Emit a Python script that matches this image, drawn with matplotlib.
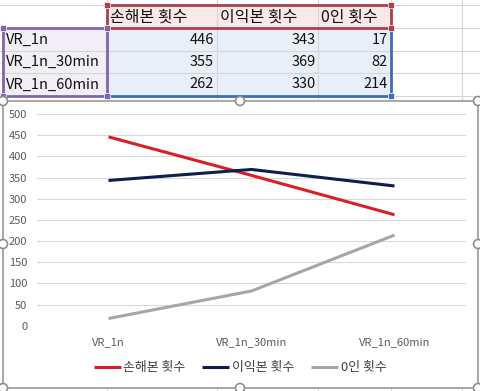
import matplotlib
matplotlib.use("Agg")
import matplotlib.pyplot as plt
from matplotlib.patches import Rectangle, Circle

plt.rcParams['font.family'] = ['Noto Sans CJK KR', 'DejaVu Sans']

# ---- data ----
categories = ["VR_1n", "VR_1n_30min", "VR_1n_60min"]
series_names = ["손해본 횟수", "이익본 횟수", "0인 횟수"]
loss_counts = [446, 355, 262]
profit_counts = [343, 369, 330]
zero_counts = [17, 82, 214]
series_values = [loss_counts, profit_counts, zero_counts]
series_colors = ["#dc1f26", "#0c1f4e", "#a6a6a6"]
y_ticks = list(range(0, 501, 50))

W, H = 480, 391
fig = plt.figure(figsize=(W / 100, H / 100), dpi=100)

# ---- spreadsheet background (pixel coords) ----
bg = fig.add_axes([0, 0, 1, 1])
bg.set_xlim(0, W)
bg.set_ylim(H, 0)
bg.axis('off')

grid_c = "#d6d6d6"
row_lines = [5, 28, 51, 73, 96]
col_lines = [107, 217, 318, 391, 462]
for y in row_lines:
    bg.plot([0, W], [y, y], color=grid_c, lw=0.8, zorder=1)
for x in col_lines:
    bg.plot([x, x], [0, H], color=grid_c, lw=0.8, zorder=1)

# ranges fills
bg.add_patch(Rectangle((107, 5), 284, 23, fc="#fbe8e8", ec="none", zorder=2))
bg.add_patch(Rectangle((3, 28), 104, 68, fc="#f2eef6", ec="none", zorder=2))
bg.add_patch(Rectangle((107, 28), 284, 68, fc="#e9eff8", ec="none", zorder=2))
for y in [51, 73]:
    bg.plot([3, 391], [y, y], color=grid_c, lw=0.8, zorder=2.5)
for x in [217, 318]:
    bg.plot([x, x], [5, 96], color=grid_c, lw=0.8, zorder=2.5)

# range borders
red_b, purple_b, blue_b = "#a8404e", "#8066a8", "#3f6db3"
bg.plot([107, 391, 391, 107, 107], [5, 5, 28, 28, 5], color=red_b, lw=2, zorder=3)
bg.plot([107, 3, 3, 107, 107], [28, 28, 96, 96, 28], color=purple_b, lw=2, zorder=3)
bg.plot([391, 391, 107], [28, 96, 96], color=blue_b, lw=2, zorder=3)
for (x, y, c) in [(107, 5, red_b), (391, 5, red_b), (391, 28, red_b), (107, 28, purple_b),
                  (3, 28, purple_b), (3, 96, purple_b), (107, 96, purple_b), (391, 96, blue_b)]:
    bg.add_patch(Rectangle((x - 3, y - 3), 6, 6, fc=c, ec="white", lw=0.5, zorder=4))

# table texts
tfs = 10.5
hfs = 11.5
hdr_x = [110, 220, 321]
num_x = [214, 316, 388]
row_y = [39.5, 62, 84.5]
for name, x in zip(series_names, hdr_x):
    bg.text(x, 17, name, fontsize=hfs, ha='left', va='center', color="#111111", zorder=5)
for cat, y in zip(categories, row_y):
    bg.text(6, y, cat, fontsize=tfs, ha='left', va='center', color="#111111", zorder=5)
for vals, x in zip(series_values, num_x):
    for v, y in zip(vals, row_y):
        bg.text(x, y, str(v), fontsize=tfs, ha='right', va='center', color="#111111", zorder=5)

# chart area
bg.add_patch(Rectangle((3, 101), 475, 287, fc="white", ec="#999999", lw=1.2, zorder=6))

# ---- chart ----
left_px, right_px, top_px, bot_px = 37, 466, 114, 325.7
ax = fig.add_axes([left_px / W, (H - bot_px) / H, (right_px - left_px) / W, (bot_px - top_px) / H])
ax.set_facecolor("none")
ax.set_zorder(2)
xs = list(range(len(categories)))
for name, vals, c in zip(series_names, series_values, series_colors):
    ax.plot(xs, vals, color=c, lw=2.2, label=name, solid_capstyle='butt')
ax.set_xlim(-0.5, len(categories) - 0.5)
ax.set_ylim(0, 500)
ax.set_yticks(y_ticks)
ax.set_xticks(xs)
ax.set_xticklabels(categories)
ax.grid(axis='y', color="#d9d9d9", lw=0.8)
ax.set_axisbelow(True)
for s in ax.spines.values():
    s.set_visible(False)
ax.tick_params(axis='both', length=0, labelsize=8, labelcolor="#595959")
ax.tick_params(axis='y', pad=7)
ax.tick_params(axis='x', pad=8)

leg = ax.legend(loc='center', bbox_to_anchor=(240 / W, 1 - 368 / H), bbox_transform=fig.transFigure,
                ncol=3, frameon=False, fontsize=9.3, handlelength=2.1, handletextpad=0.2,
                columnspacing=1.3)
for t in leg.get_texts():
    t.set_color("#404040")

# ---- selection handles ----
ov = fig.add_axes([0, 0, 1, 1])
ov.set_xlim(0, W)
ov.set_ylim(H, 0)
ov.axis('off')
ov.set_zorder(3)
for (x, y) in [(3, 101), (240, 101), (478, 101), (3, 244), (478, 244), (3, 388), (240, 388), (478, 388)]:
    ov.add_patch(Circle((x, y), 4.5, fc="white", ec="#8e8e8e", lw=1.2))

fig.savefig("out.png", dpi=100)
